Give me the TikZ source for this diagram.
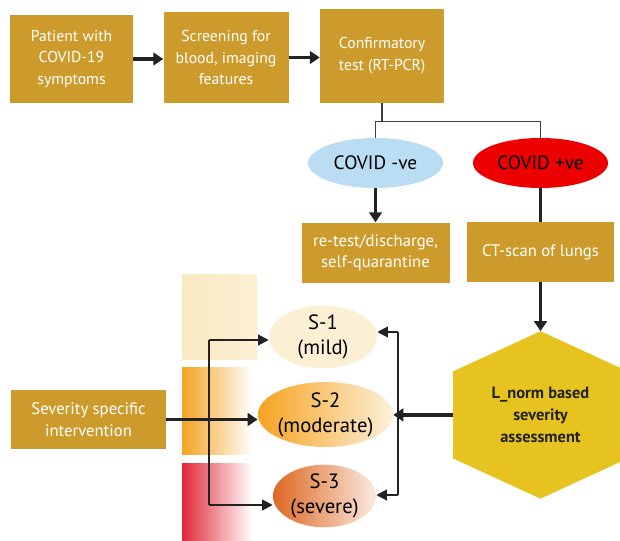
\documentclass[tikz,border=0pt]{standalone}
\usepackage{fontspec}
\setmainfont{PT Sans}
\usetikzlibrary{positioning,shapes.geometric,arrows.meta,backgrounds,calc}
\definecolor{boxgold}{RGB}{205,155,43}
\definecolor{hexgold}{RGB}{230,195,30}
\definecolor{negblue}{RGB}{187,221,243}
\definecolor{posred}{RGB}{236,0,0}
\definecolor{linegray}{RGB}{64,64,64}
\definecolor{arrdark}{RGB}{34,34,34}
\definecolor{mildcream}{RGB}{252,240,212}
\definecolor{milddeep}{RGB}{250,232,192}
\definecolor{modorange}{RGB}{245,163,32}
\definecolor{modpale}{RGB}{253,240,218}
\definecolor{sevorange}{RGB}{222,104,34}
\definecolor{sevpale}{RGB}{250,234,224}
\definecolor{sevred}{RGB}{224,40,56}

\tikzset{
	flowbox/.style={rectangle, fill=boxgold, text=white, align=center, inner sep=2pt, font=\fontsize{11.8}{16.3}\selectfont},
	flowboxlg/.style={flowbox, font=\fontsize{12.5}{16}\selectfont},
	covidell/.style={ellipse, inner sep=0pt, align=center, text=black, minimum width=101.25pt, minimum height=37.5pt, font=\fontsize{14.5}{17}\selectfont},
	stageell/.style={ellipse, inner sep=0pt, align=center, text=black, font=\fontsize{15.5}{18.75}\selectfont},
	arr/.style={draw=arrdark, line width=2.4pt, -{Triangle[length=7.5pt,width=9.5pt]}},
	brarr/.style={draw=arrdark, line width=1.6pt, -{Triangle[length=8pt,width=8pt]}},
	thinln/.style={draw=linegray, line width=1.1pt},
}

\begin{document}
\begin{tikzpicture}[x=0.75pt, y=-0.75pt]
	\useasboundingbox (0,0) rectangle (620,541);
	
	% fading bars behind the stages
	\shade[left color=milddeep, right color=mildcream] (182,275) rectangle (257,359);
	\shade[left color=modorange, right color=white] (182,367) rectangle (252,454);
	\shade[left color=sevred, right color=white] (182,463) rectangle (252,541);
	
	\node[flowbox, minimum width=92.25pt, minimum height=66pt] (pat) at (71.5,59) {Patient with\\COVID-19\\symptoms};
	\node[flowbox, minimum width=93.75pt, minimum height=68.25pt, right=22.5pt of pat.south east, anchor=south west] (scr) {Screening for\\blood, imaging\\features};
	\node[flowbox, minimum width=93pt, minimum height=70.5pt, right=23.25pt of scr.south east, anchor=south west] (conf) {Confirmatory\\test (RT-PCR)};
	
	\node[covidell, fill=negblue] (neg) at (375.5,163) {COVID -ve};
	\node[covidell, fill=posred] (pos) at (540.5,163) {COVID +ve};
	
	\node[flowboxlg, minimum width=111pt, minimum height=45pt, below=25.5pt of neg] (ret) {re-test/discharge,\\self-quarantine};
	\node[flowboxlg, minimum width=110.25pt, minimum height=45pt, below=25pt of pos] (ct) {CT-scan of lungs};
	
	\node[minimum width=130.5pt, minimum height=125.25pt, inner sep=0pt, align=center, text=arrdark, font=\bfseries\fontsize{12.3}{16.2}\selectfont, below=36.75pt of ct] (hex) {L\_norm based\\severity\\assessment};
	\begin{scope}[on background layer]
		\fill[hexgold] (hex.north) -- ($(hex.north east)!0.24!(hex.south east)$) -- ($(hex.north east)!0.76!(hex.south east)$) -- (hex.south) -- ($(hex.north west)!0.76!(hex.south west)$) -- ($(hex.north west)!0.24!(hex.south west)$) -- cycle;
	\end{scope}
	
	\node[stageell, fill=mildcream, minimum width=81pt, minimum height=45pt] (s1) at (323,337) {S-1\\(mild)};
	\node[stageell, left color=modorange, right color=modpale, minimum width=78.75pt, minimum height=48.75pt] (s2) at (325.5,414.5) {S-2\\(moderate)};
	\node[stageell, left color=sevorange, right color=sevpale, minimum width=77.25pt, minimum height=46.5pt] (s3) at (324.5,496) {S-3\\(severe)};
	
	\node[flowboxlg, minimum width=116.25pt, minimum height=44.25pt] (sev) at (88.5,419.5) {Severity specific\\intervention};
	
	\draw[arr] (pat.east) -- (pat.east -| scr.west);
	\draw[arr] (scr.east) -- (scr.east -| conf.west);
	
	\coordinate[below=13.5pt of conf.south] (split);
	\draw[thinln] (conf.south) -- (split) -| (neg.north);
	\draw[thinln] (split) -| (pos.north);
	
	\draw[arr] (neg.south) -- (neg.south |- ret.north);
	\draw[draw=arrdark, line width=2.4pt] (pos.south) -- (pos.south |- ct.north);
	\draw[arr] (ct.south) -- (hex.north);
	\draw[arr] (hex.west) -- (hex.west -| s2.east);
	\draw[arr] (sev.east) -- (sev.east -| s2.west);
	
	% brackets
	\coordinate (rtop) at (398,332);
	\coordinate (rbot) at (398,495);
	\draw[thinln, draw=arrdark] (rtop) -- (rbot);
	\draw[brarr] (rtop) -- (rtop -| s1.east);
	\draw[brarr] (rbot) -- (rbot -| s3.east);
	
	\coordinate (ltop) at (209,340);
	\coordinate (lbot) at (209,505);
	\draw[thinln, draw=arrdark] (ltop) -- (lbot);
	\draw[brarr] (ltop) -- (ltop -| s1.west);
	\draw[brarr] (lbot) -- (lbot -| s3.west);
\end{tikzpicture}
\end{document}
